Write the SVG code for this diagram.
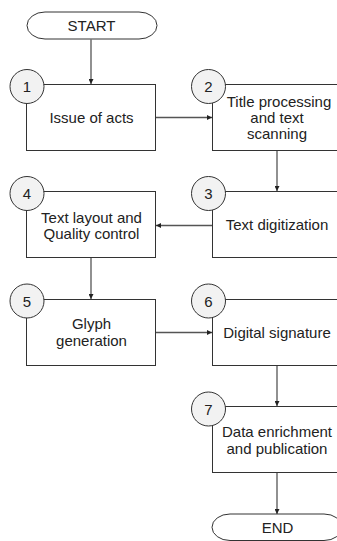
<svg xmlns="http://www.w3.org/2000/svg" width="337" height="541" viewBox="0 0 337 541">
<defs>
<style>
.box{fill:#ffffff;stroke:#333333;stroke-width:1}
.pill{fill:#ffffff;stroke:#333333;stroke-width:1}
.num{fill:#f2f2f2;stroke:#333333;stroke-width:1}
.lbl{font-family:"Liberation Sans",Arial,sans-serif;font-size:15px;fill:#222222;text-anchor:middle}
.conn{fill:none;stroke:#555555;stroke-width:1.3;marker-end:url(#ah)}
</style>
<marker id="ah" viewBox="0 0 6 6" refX="6" refY="3" markerWidth="5" markerHeight="5" markerUnits="userSpaceOnUse" orient="auto">
<path d="M0,0 L6,3 L0,6 z" fill="#222222"/>
</marker>
</defs>
<rect width="337" height="541" fill="#ffffff"/>
<g id="connectors">
<path class="conn" d="M91,39.5 V84"/>
<path class="conn" d="M156,117.5 H212"/>
<path class="conn" d="M277,150.5 V191"/>
<path class="conn" d="M212,225.5 H156"/>
<path class="conn" d="M91,257.5 V299"/>
<path class="conn" d="M156,332.5 H212"/>
<path class="conn" d="M277,365.5 V406"/>
<path class="conn" d="M277,472.5 V514"/>
</g>
<g id="start">
<rect class="pill" x="27" y="12" width="130" height="27" rx="18" ry="13.5"/>
<text class="lbl" x="91.5" y="31">START</text>
</g>
<g id="n1">
<rect class="box" x="26.5" y="84.5" width="129" height="66"/>
<circle class="num" cx="27" cy="86.5" r="17"/>
<text class="lbl" x="27" y="92">1</text>
<text class="lbl" x="91.5" y="122.5">Issue of acts</text>
</g>
<g id="n2">
<rect class="box" x="212.5" y="84.5" width="129" height="66"/>
<circle class="num" cx="208.5" cy="86.5" r="17"/>
<text class="lbl" x="208.5" y="92">2</text>
<text class="lbl" x="279" y="106.5">Title processing</text>
<text class="lbl" x="277" y="122.5">and text</text>
<text class="lbl" x="277" y="138.5">scanning</text>
</g>
<g id="n3">
<rect class="box" x="212.5" y="191.5" width="129" height="66"/>
<circle class="num" cx="208.5" cy="193.5" r="17"/>
<text class="lbl" x="208.5" y="199">3</text>
<text class="lbl" x="277" y="230">Text digitization</text>
</g>
<g id="n4">
<rect class="box" x="26.5" y="191.5" width="129" height="66"/>
<circle class="num" cx="27" cy="193.5" r="17"/>
<text class="lbl" x="27" y="199">4</text>
<text class="lbl" x="91.5" y="222.5">Text layout and</text>
<text class="lbl" x="91.5" y="239">Quality control</text>
</g>
<g id="n5">
<rect class="box" x="26.5" y="299.5" width="129" height="66"/>
<circle class="num" cx="27" cy="301" r="17"/>
<text class="lbl" x="27" y="306.5">5</text>
<text class="lbl" x="91.5" y="329">Glyph</text>
<text class="lbl" x="91.5" y="345.5">generation</text>
</g>
<g id="n6">
<rect class="box" x="212.5" y="299.5" width="129" height="66"/>
<circle class="num" cx="208.5" cy="301" r="17"/>
<text class="lbl" x="208.5" y="306.5">6</text>
<text class="lbl" x="277" y="338">Digital signature</text>
</g>
<g id="n7">
<rect class="box" x="212.5" y="406.5" width="129" height="66"/>
<circle class="num" cx="208.5" cy="409" r="17"/>
<text class="lbl" x="208.5" y="414.5">7</text>
<text class="lbl" x="277" y="437">Data enrichment</text>
<text class="lbl" x="277" y="453.5">and publication</text>
</g>
<g id="end">
<rect class="pill" x="212" y="514" width="130" height="26.5" rx="18" ry="13.25"/>
<text class="lbl" x="277.5" y="532.5">END</text>
</g>
</svg>
